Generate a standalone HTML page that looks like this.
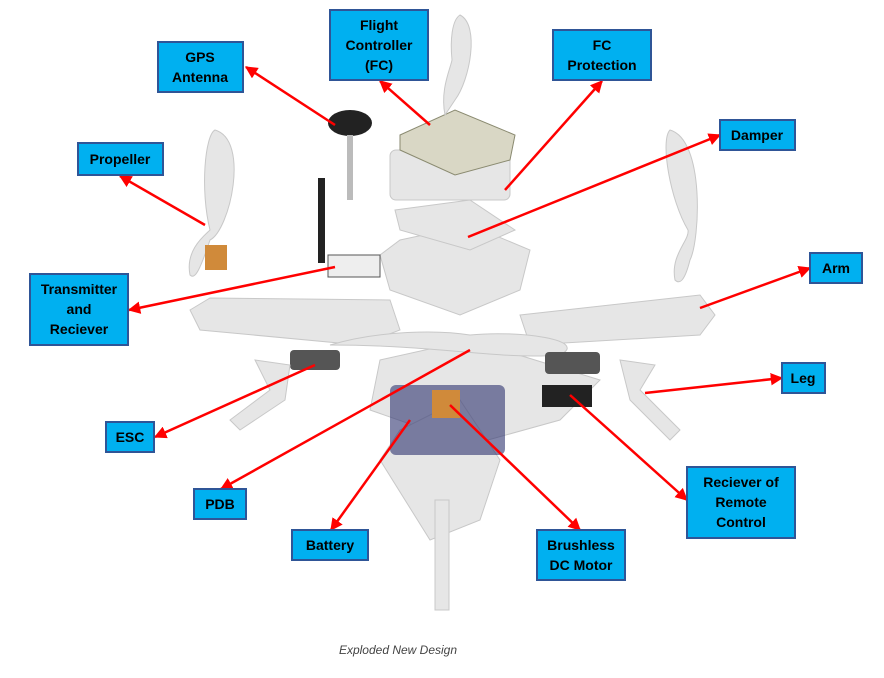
<!DOCTYPE html>
<html><head><meta charset="utf-8"><style>
html,body{margin:0;padding:0;background:#fff;width:884px;height:678px;overflow:hidden}
svg{display:block}
.lbl{font-family:"Liberation Sans",sans-serif;font-weight:bold;font-size:14px;fill:#000;text-anchor:middle}
.box{fill:#00b0f0;stroke:#2f5597;stroke-width:2}
.arr{stroke:#f00;stroke-width:2.5;fill:none}
.part{fill:#e6e6e6;stroke:#c8c8c8;stroke-width:1}
</style></head><body>
<svg width="884" height="678" viewBox="0 0 884 678">
<defs><marker id="ah" viewBox="0 0 10 10" refX="9" refY="5" markerWidth="5" markerHeight="5" orient="auto"><path d="M0,0L10,5L0,10z" fill="#f00"/></marker></defs>
<g>
 <polygon class="part" points="400,240 470,225 530,250 520,290 460,315 390,290 380,255"/>
 <polygon class="part" points="190,310 210,298 390,300 400,330 360,345 200,330"/>
 <polygon class="part" points="520,315 700,295 715,315 700,335 530,345"/>
 <polygon class="part" points="380,360 470,340 600,380 560,420 470,445 370,410"/>
 <polygon class="part" points="400,430 460,400 500,460 480,520 430,540 380,460"/>
 <rect class="part" x="435" y="500" width="14" height="110"/>
 <polygon class="part" points="395,210 470,200 515,230 470,250 400,230"/>
 <rect class="part" x="390" y="150" width="120" height="50" rx="6"/>
 <polygon points="400,135 455,110 515,135 510,160 455,175 400,150" fill="#d9d7c5" stroke="#8a8a70"/>
 <ellipse cx="350" cy="123" rx="22" ry="13" fill="#222"/>
 <rect x="347" y="135" width="6" height="65" fill="#bbb"/>
 <rect x="328" y="255" width="52" height="22" fill="#eee" stroke="#555"/>
 <rect x="318" y="178" width="7" height="85" fill="#222"/>
 <path class="part" d="M215,130 C250,140 230,230 210,240 C200,270 195,280 190,275 C185,250 205,235 210,230 C200,190 205,135 215,130z"/>
 <rect x="205" y="245" width="22" height="25" fill="#d08a3a"/>
 <path class="part" d="M670,130 C705,140 700,240 690,260 C685,280 680,285 675,280 C670,255 690,240 688,230 C670,200 660,140 670,130z"/>
 <path class="part" d="M460,15 C480,25 470,80 455,100 L445,115 C440,90 450,70 452,60 C450,40 452,20 460,15z"/>
 <path class="part" d="M330,345 C380,330 440,330 470,335 C520,330 590,340 560,355 C500,360 440,345 330,345z"/>
 <rect x="390" y="385" width="115" height="70" rx="6" fill="#2f3470" opacity="0.6"/>
 <rect x="432" y="390" width="28" height="28" fill="#d08a3a"/>
 <rect x="290" y="350" width="50" height="20" rx="4" fill="#555"/>
 <rect x="545" y="352" width="55" height="22" rx="4" fill="#555"/>
 <rect x="542" y="385" width="50" height="22" fill="#222"/>
 <path class="part" d="M255,360 L290,365 L285,400 L240,430 L230,420 L270,390z"/>
 <path class="part" d="M620,360 L655,365 L640,390 L680,430 L670,440 L630,400z"/>
</g>
<g>
 <line class="arr" marker-end="url(#ah)" x1="430" y1="125" x2="380" y2="81"/>
 <line class="arr" marker-end="url(#ah)" x1="335" y1="125" x2="246" y2="67"/>
 <line class="arr" marker-end="url(#ah)" x1="505" y1="190" x2="602" y2="81"/>
 <line class="arr" marker-end="url(#ah)" x1="468" y1="237" x2="720" y2="135"/>
 <line class="arr" marker-end="url(#ah)" x1="205" y1="225" x2="120" y2="176"/>
 <line class="arr" marker-end="url(#ah)" x1="335" y1="267" x2="129" y2="310"/>
 <line class="arr" marker-end="url(#ah)" x1="700" y1="308" x2="810" y2="268"/>
 <line class="arr" marker-end="url(#ah)" x1="645" y1="393" x2="782" y2="378"/>
 <line class="arr" marker-end="url(#ah)" x1="315" y1="365" x2="155" y2="437"/>
 <line class="arr" marker-end="url(#ah)" x1="470" y1="350" x2="221" y2="489"/>
 <line class="arr" marker-end="url(#ah)" x1="410" y1="420" x2="331" y2="530"/>
 <line class="arr" marker-end="url(#ah)" x1="450" y1="405" x2="580" y2="530"/>
 <line class="arr" marker-end="url(#ah)" x1="570" y1="395" x2="687" y2="500"/>
</g>
<g>
 <g><rect class="box" x="330" y="10" width="98" height="70"/><text class="lbl" x="379" y="30">Flight</text><text class="lbl" x="379" y="50">Controller</text><text class="lbl" x="379" y="70">(FC)</text></g>
 <g><rect class="box" x="158" y="42" width="85" height="50"/><text class="lbl" x="200" y="62">GPS</text><text class="lbl" x="200" y="82">Antenna</text></g>
 <g><rect class="box" x="553" y="30" width="98" height="50"/><text class="lbl" x="602" y="50">FC</text><text class="lbl" x="602" y="70">Protection</text></g>
 <g><rect class="box" x="720" y="120" width="75" height="30"/><text class="lbl" x="757" y="140">Damper</text></g>
 <g><rect class="box" x="78" y="143" width="85" height="32"/><text class="lbl" x="120" y="164">Propeller</text></g>
 <g><rect class="box" x="30" y="274" width="98" height="71"/><text class="lbl" x="79" y="294">Transmitter</text><text class="lbl" x="79" y="314">and</text><text class="lbl" x="79" y="334">Reciever</text></g>
 <g><rect class="box" x="810" y="253" width="52" height="30"/><text class="lbl" x="836" y="273">Arm</text></g>
 <g><rect class="box" x="782" y="363" width="43" height="30"/><text class="lbl" x="803" y="383">Leg</text></g>
 <g><rect class="box" x="106" y="422" width="48" height="30"/><text class="lbl" x="130" y="442">ESC</text></g>
 <g><rect class="box" x="194" y="489" width="52" height="30"/><text class="lbl" x="220" y="509">PDB</text></g>
 <g><rect class="box" x="292" y="530" width="76" height="30"/><text class="lbl" x="330" y="550">Battery</text></g>
 <g><rect class="box" x="537" y="530" width="88" height="50"/><text class="lbl" x="581" y="550">Brushless</text><text class="lbl" x="581" y="570">DC Motor</text></g>
 <g><rect class="box" x="687" y="467" width="108" height="71"/><text class="lbl" x="741" y="487">Reciever of</text><text class="lbl" x="741" y="507">Remote</text><text class="lbl" x="741" y="527">Control</text></g>
</g>
<text x="398" y="654" text-anchor="middle" font-family="Liberation Sans, sans-serif" font-style="italic" font-size="12" fill="#444">Exploded New Design</text>
</svg>
</body></html>
